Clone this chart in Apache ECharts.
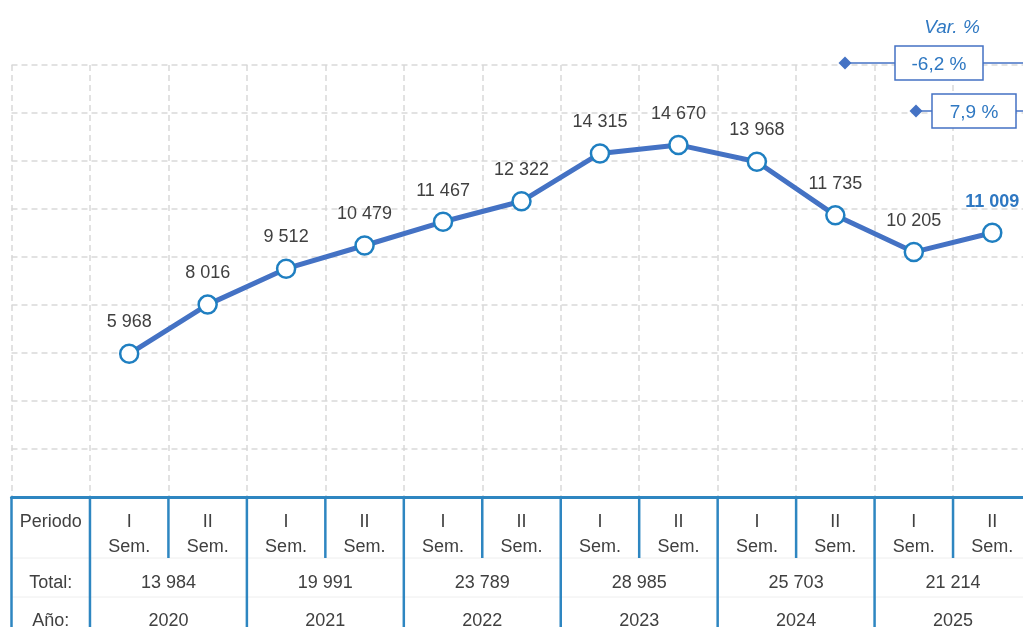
<!DOCTYPE html>
<html>
<head>
<meta charset="utf-8">
<script src="https://cdn.jsdelivr.net/npm/echarts@6/dist/echarts.min.js"></script>
<style>
  html, body { margin: 0; padding: 0; background: #fff; }
  #chart { width: 1023px; height: 627px; }
</style>
</head>
<body>
<div id="chart"></div>
<script>
// datos
const semestres = ['I\nSem.', 'II\nSem.', 'I\nSem.', 'II\nSem.', 'I\nSem.', 'II\nSem.',
  'I\nSem.', 'II\nSem.', 'I\nSem.', 'II\nSem.', 'I\nSem.', 'II\nSem.'];
const valores = [5968, 8016, 9512, 10479, 11467, 12322, 14315, 14670, 13968, 11735, 10205, 11009];
const anios = ['2020', '2021', '2022', '2023', '2024', '2025'];
const yTicks = [0, 18000, 2000]; // min, max, intervalo

// colores
const lineColor = '#4472C4';
const tableBlue = '#2E86C1';
const textColor = '#404040';
const gridColor = '#d9d9d9';
const varColor = '#2F78C2';
const font = '"Liberation Sans Narrow", "Arial Narrow", Arial, sans-serif';

const fmt = (n) => String(n).replace(/\B(?=(\d{3})+(?!\d))/g, ' ');
const pct = (a, b) => ((a / b - 1) * 100).toFixed(1).replace('.', ',') + ' %';

const chart = echarts.init(document.getElementById('chart'));

const seriesData = ['-'].concat(valores.map((v, i) => {
  if (i === valores.length - 1) {
    return { value: v, label: { color: varColor, fontWeight: 'bold' } };
  }
  return v;
}));

const option = {
  animation: false,
  grid: {
    left: 11.5,
    top: 65,
    width: 1020,
    height: 432,
    containLabel: false,
    outerBoundsMode: 'none',
  },
  xAxis: {
    type: 'category',
    data: ['Periodo'].concat(semestres),
    boundaryGap: true,
    axisLine: { lineStyle: { color: tableBlue, width: 3 } },
    axisTick: { show: false },
    axisLabel: {
      interval: 0,
      color: textColor,
      fontFamily: font,
      fontSize: 18,
      lineHeight: 25,
      margin: 13,
    },
    splitLine: {
      show: true,
      interval: 0,
      lineStyle: { type: [6, 4], color: gridColor, width: 1.5 },
    },
  },
  yAxis: {
    type: 'value',
    min: yTicks[0],
    max: yTicks[1],
    interval: yTicks[2],
    axisLabel: { show: false },
    axisLine: { show: false },
    axisTick: { show: false },
    splitLine: {
      lineStyle: { type: [6, 4], color: gridColor, width: 1.5 },
    },
  },
  series: [
    {
      type: 'line',
      data: seriesData,
      symbol: 'circle',
      symbolSize: 18,
      z: 5,
      lineStyle: { color: lineColor, width: 5 },
      itemStyle: { color: '#fff', borderColor: '#1F7FC1', borderWidth: 2.5 },
      label: {
        show: true,
        position: 'top',
        distance: 12,
        color: textColor,
        fontFamily: font,
        fontSize: 18,
        formatter: (p) => fmt(p.value),
      },
    },
  ],
};

chart.setOption(option);

// tabla inferior y variaciones
const cx = (i) => chart.convertToPixel({ xAxisIndex: 0 }, i);
const y0 = chart.convertToPixel({ yAxisIndex: 0 }, 0);
const colW = cx(1) - cx(0);
const graphics = [];

const txt = (text, x, y, extra) => ({
  type: 'text',
  z: 12,
  style: Object.assign({
    text: text, x: x, y: y,
    fill: textColor, fontFamily: font, fontSize: 18,
    align: 'center', verticalAlign: 'middle',
  }, extra || {}),
});

// lineas horizontales tenues
[61, 100].forEach((dy) => {
  graphics.push({
    type: 'line', z: 8,
    shape: { x1: cx(0) - colW / 2, y1: y0 + dy, x2: 1023, y2: y0 + dy },
    style: { stroke: '#eeeeee', lineWidth: 1 },
  });
});

// lineas verticales azules
for (let b = 0; b <= semestres.length; b++) {
  const x = cx(b) - colW / 2;
  const full = b === 0 || b % 2 === 1;
  graphics.push({
    type: 'line', z: 9,
    shape: { x1: x, y1: y0, x2: x, y2: full ? 627 : y0 + 61 },
    style: { stroke: tableBlue, lineWidth: 2.5 },
  });
}

graphics.push(txt('Total:', cx(0), y0 + 86));
graphics.push(txt('Año:', cx(0), y0 + 124));
anios.forEach((a, k) => {
  const x = cx(2 * k + 1) + colW / 2;
  const total = valores[2 * k] + valores[2 * k + 1];
  graphics.push(txt(fmt(total), x, y0 + 86));
  graphics.push(txt(a, x, y0 + 124));
});

// Var. %
const last = valores[valores.length - 1];
const varAnual = pct(last, valores[valores.length - 3]);
const varSem = pct(last, valores[valores.length - 2]);

graphics.push(txt('Var. %', 952, 28, { fill: varColor, fontStyle: 'italic', fontSize: 19 }));

const callout = (dx, y, bx1, bx2, label) => {
  graphics.push({
    type: 'line', z: 10,
    shape: { x1: dx, y1: y, x2: 1023, y2: y },
    style: { stroke: lineColor, lineWidth: 1.5 },
  });
  graphics.push({
    type: 'polygon', z: 11,
    shape: { points: [[dx - 6.5, y], [dx, y - 6.5], [dx + 6.5, y], [dx, y + 6.5]] },
    style: { fill: lineColor },
  });
  graphics.push({
    type: 'rect', z: 11,
    shape: { x: bx1, y: y - 17, width: bx2 - bx1, height: 34 },
    style: { fill: '#fff', stroke: lineColor, lineWidth: 1.5 },
  });
  graphics.push(txt(label, (bx1 + bx2) / 2, y + 2, { fill: varColor, fontSize: 19 }));
};
callout(845, 63, 895, 983, varAnual);
callout(916, 111, 932, 1016, varSem);

chart.setOption({ graphic: graphics });
</script>
</body>
</html>
